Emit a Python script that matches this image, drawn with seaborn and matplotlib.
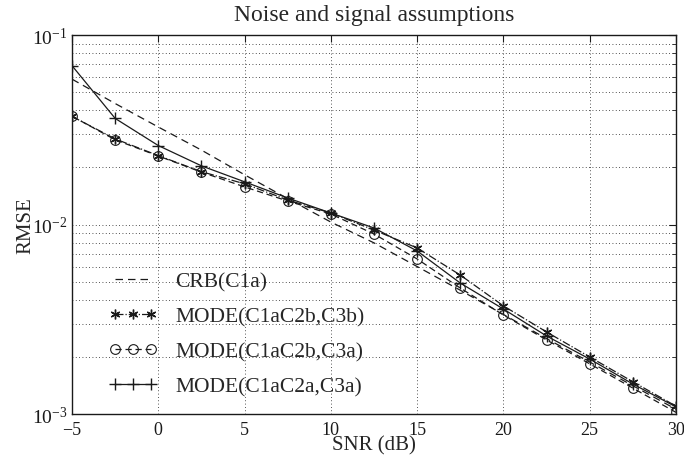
import numpy as np
import pandas as pd
import matplotlib
matplotlib.use("Agg")
import matplotlib.pyplot as plt
import seaborn as sns
from matplotlib.ticker import LogLocator, FixedLocator

# SNR grid (dB)
snr = [-5, -2.5, 0, 2.5, 5, 7.5, 10, 12.5, 15, 17.5, 20, 22.5, 25, 27.5, 30]

# RMSE curves
crb_c1a = [0.0585, 0.0435, 0.0327, 0.0247, 0.0183, 0.0137, 0.0103, 0.0080,
           0.0060, 0.00450, 0.00335, 0.00250, 0.00188, 0.00141, 0.00106]
mode_c3b = [0.0372, 0.0283, 0.0231, 0.0190, 0.0164, 0.01347, 0.0115, 0.00935,
            0.00752, 0.00541, 0.00372, 0.00271, 0.00200, 0.00148, 0.00110]
mode_c3a = [0.0373, 0.0280, 0.0230, 0.0189, 0.0158, 0.0133, 0.01136, 0.00891,
            0.00658, 0.00462, 0.00333, 0.00246, 0.00184, 0.00137, 0.00102]
mode_c2a = [0.0689, 0.0363, 0.0261, 0.0204, 0.0168, 0.0138, 0.0115, 0.00959,
            0.00725, 0.00491, 0.00358, 0.00258, 0.00195, 0.00144, 0.00109]

labels = ["CRB(C1a)", "MODE(C1aC2b,C3b)", "MODE(C1aC2b,C3a)", "MODE(C1aC2a,C3a)"]
xticks = [-5, 0, 5, 10, 15, 20, 25, 30]

sns.set_theme(style="white")
plt.rcParams["font.family"] = ["Liberation Serif", "DejaVu Serif"]
plt.rcParams["mathtext.fontset"] = "stix"

fig = plt.figure(figsize=(6.84, 4.56), dpi=100)
ax = fig.add_axes([0.1053, 0.0899, 0.8830, 0.8311])

# six-spoke asterisk marker
asterisk = (6, 2, 0)
styles = [
    dict(linestyle=(0, (6, 4)), marker=None),
    dict(linestyle="-.", marker=asterisk, markersize=7, markerfacecolor="k",
         markeredgecolor="k", markeredgewidth=1.0),
    dict(linestyle=(0, (5, 3)), marker="o", markersize=7,
         markerfacecolor="none", markeredgecolor="k", markeredgewidth=0.8),
    dict(linestyle="-", marker="+", markersize=9, markeredgecolor="k",
         markeredgewidth=1.0),
]
series = [crb_c1a, mode_c3b, mode_c3a, mode_c2a]

for lab, vals, st in zip(labels, series, styles):
    df = pd.DataFrame({"SNR": snr, "RMSE": vals})
    sns.lineplot(data=df, x="SNR", y="RMSE", ax=ax, color="k", linewidth=0.9,
                 label=lab, legend=False, **st)

ax.set_yscale("log")
ax.set_xlim(-5, 30)
ax.set_ylim(1e-3, 1e-1)
ax.xaxis.set_major_locator(FixedLocator(xticks))
ax.yaxis.set_major_locator(LogLocator(base=10))
ax.yaxis.set_minor_locator(LogLocator(base=10, subs=np.arange(2, 10)))

ax.grid(True, which="major", axis="both", linestyle=(0, (1, 3)),
        color="k", linewidth=0.6)
ax.grid(True, which="minor", axis="y", linestyle=(0, (1, 3)),
        color="k", linewidth=0.6)

ax.tick_params(axis="both", which="both", direction="in", top=True,
               right=True, colors="k")
ax.tick_params(axis="x", labelsize=13, pad=5)
ax.tick_params(axis="y", labelsize=14, pad=3)
ax.tick_params(axis="both", which="major", length=5, width=0.8)
ax.tick_params(axis="y", which="minor", length=3, width=0.6)
for sp in ax.spines.values():
    sp.set_color("k")
    sp.set_linewidth(1.0)

ax.set_title("Noise and signal assumptions", fontsize=17, pad=11)
ax.set_xlabel("SNR (dB)", fontsize=15, labelpad=-2)
ax.set_ylabel("RMSE", fontsize=15, labelpad=-2)

handles = ax.get_lines()[:4]
ax.legend(handles, labels, loc="upper left", bbox_to_anchor=(0.06, 0.375),
          frameon=False, numpoints=3, fontsize=15.5, handlelength=2.3,
          handletextpad=0.8, labelspacing=0.68, borderpad=0, borderaxespad=0)

fig.savefig("out.png", dpi=100)
